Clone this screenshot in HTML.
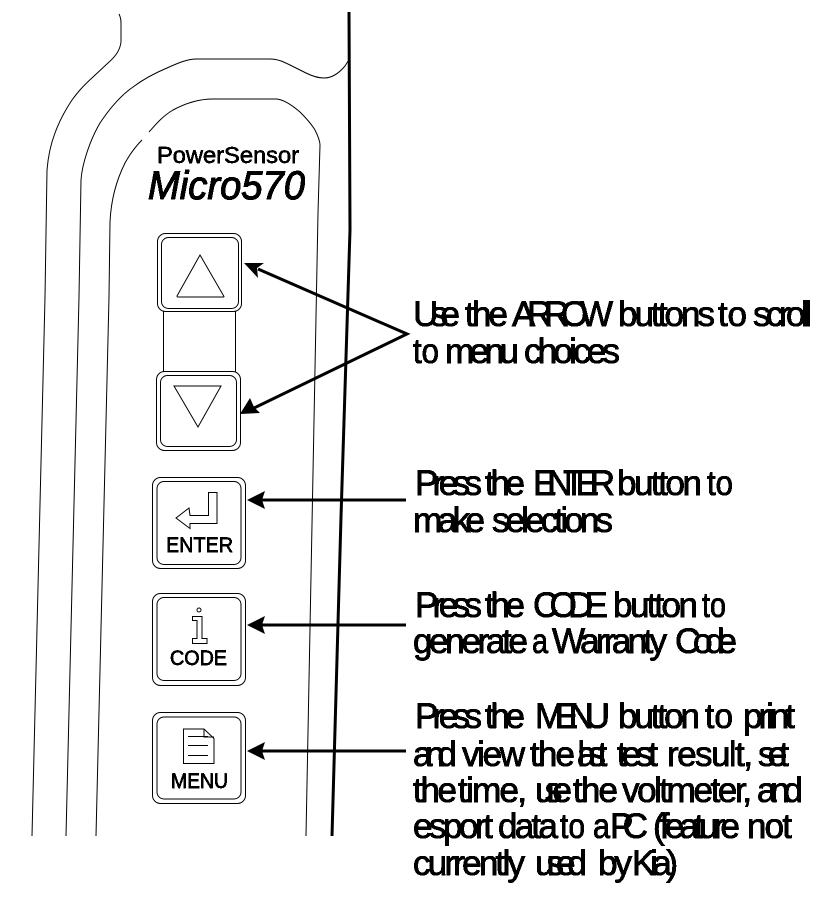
<!DOCTYPE html>
<html><head><meta charset="utf-8">
<style>
html,body{margin:0;padding:0;background:#fff;width:832px;height:904px;overflow:hidden}
svg{display:block}
text{font-family:"Liberation Sans",sans-serif;fill:#000}
.c text{font-size:35px;stroke:#000;stroke-width:.7px}
.l{font-size:21px;stroke:#000;stroke-width:.6px}
</style></head><body>
<svg width="832" height="904" viewBox="0 0 832 904" xmlns="http://www.w3.org/2000/svg">
<defs><filter id="t" x="0" y="0" width="100%" height="100%" color-interpolation-filters="sRGB"><feComponentTransfer><feFuncA type="discrete" tableValues="0 1 1"/></feComponentTransfer></filter></defs>
<g fill="none" stroke="#000" stroke-width="1">
<path d="M119 14C121 18 121 21 121 25L121 42C120 50 116 56 108 63L93 77C82 87 78 92 72 100C64 112 59 122 55 133C50 146 48 158 47 170L45 297L32 836"/>
<path d="M66 836L79 297L81 180C82 164 90 140 100 123C110 108 120 96 133 87C145 78 155 73 167 68C178 63 187 59 197 59L270 59C278 59 284 62 290 65L306 73C312 76 318 78 324 78C333 78 340 72 345 66L350 58"/>
<path d="M96 836L109 297L110 222C111 200 116 181 125 163C130 154 135 147 142 140M149 132C157 123 163 116 173 110C186 103 200 99 213 99L277 99C285 100 293 106 300 112C307 119 312 125 315 130C318 136 320 141 320 145L318 213L306 836"/>
<rect x="157.5" y="233.5" width="84" height="78" rx="8"/>
<rect x="161.5" y="237.5" width="77" height="71" rx="7"/>
<path d="M163.500 311V372M235.500 311V372"/>
<rect x="156.500" y="371.500" width="84" height="79" rx="8" fill="#fff"/>
<rect x="160.500" y="375.500" width="76" height="71" rx="7"/>
<path d="M200 255L224 296.500Q224 297 223 297L178 297Q177 297 177 296Z"/>
<path d="M174 386H221L198 427Z"/>
<rect x="152.500" y="477.500" width="93" height="91" rx="8"/>
<rect x="157" y="481.500" width="84" height="83" rx="7"/>
<path d="M208.500 492.500H217V523.500H190V528.500L176 518L189 508L190 515.500H208.500Z"/>
<rect x="152.500" y="593.500" width="93" height="92" rx="8"/>
<rect x="157" y="597.500" width="84" height="83" rx="7"/>
<circle cx="199" cy="610" r="2"/>
<path d="M192.500 616.500H202V638.500H207V643.500H192.500V638.500H197V620.500H192.500Z"/>
<rect x="152.500" y="712.500" width="93" height="91" rx="8"/>
<rect x="157" y="717" width="84" height="82" rx="7"/>
<path d="M183.500 729H204L214 738.500V763.500H183.500ZM204 729V737H214M188 736.500H208M188 745.500H208M188 755.500H208"/>
</g>
<path d="M349 12L350 230L341 517L332 836" fill="none" stroke="#000" stroke-width="3"/>
<g fill="none" stroke="#000" stroke-width="3">
<path d="M258 269L407 334L254 408"/>
<path d="M262 500H406M262 625H406M262 751H406"/>
</g>
<g fill="#000">
<path d="M244 263L264 263L257 268L258 278Z"/>
<path d="M240 414L250 398L254 407L260 413Z"/>
<path d="M247 500L265 491L262 500L265 509Z"/>
<path d="M247 625L265 616L262 625L265 634Z"/>
<path d="M247 751L265 742L262 751L265 760Z"/>
</g>
<g filter="url(#t)">
<text x="157" y="163" font-size="23" stroke="#000" stroke-width=".5" textLength="142" lengthAdjust="spacingAndGlyphs">PowerSensor</text>
<text x="148" y="199" font-size="40" font-style="italic" stroke="#000" stroke-width="1" textLength="157" lengthAdjust="spacingAndGlyphs">Micro570</text>
<text class="l" x="166" y="552" textLength="67" lengthAdjust="spacingAndGlyphs">ENTER</text>
<text class="l" x="170" y="665" textLength="57" lengthAdjust="spacingAndGlyphs">CODE</text>
<text class="l" x="171" y="788" textLength="57" lengthAdjust="spacingAndGlyphs">MENU</text>
<g class="c">
<text x="413" y="326" textLength="47">Use</text><text x="465" y="326" textLength="43">the</text><text x="512" y="326" textLength="101">ARROW</text><text x="618" y="326" textLength="97">buttons</text><text x="718" y="326" textLength="29" lengthAdjust="spacingAndGlyphs">to</text><text x="753" y="326" textLength="59">scroll</text>
<text x="413" y="363" textLength="26" lengthAdjust="spacingAndGlyphs">to</text><text x="445" y="363" textLength="74">menu</text><text x="524" y="363" textLength="96">choices</text>
<text x="415" y="495" textLength="67">Press</text><text x="485" y="495" textLength="40">the</text><text x="533" y="495" textLength="82">ENTER</text><text x="617" y="495" textLength="85">button</text><text x="707" y="495" textLength="26" lengthAdjust="spacingAndGlyphs">to</text>
<text x="413" y="532" textLength="72">make</text><text x="492" y="532" textLength="121">selections</text>
<text x="415" y="617" textLength="67">Press</text><text x="485" y="617" textLength="40">the</text><text x="533" y="617" textLength="75">CODE</text><text x="613" y="617" textLength="85">button</text><text x="702" y="617" textLength="24" lengthAdjust="spacingAndGlyphs">to</text>
<text x="413" y="653" textLength="115">generate</text><text x="532" y="653" textLength="16" lengthAdjust="spacingAndGlyphs">a</text><text x="552" y="653" textLength="115">Warranty</text><text x="675" y="653" textLength="62">Code</text>
<text x="415" y="728" textLength="67">Press</text><text x="485" y="728" textLength="40">the</text><text x="535" y="728" textLength="75">MENU</text><text x="618" y="728" textLength="82">button</text><text x="705" y="728" textLength="28" lengthAdjust="spacingAndGlyphs">to</text><text x="743" y="728" textLength="52">print</text>
<text x="413" y="766" textLength="44">and</text><text x="462" y="766" textLength="63">view</text><text x="530" y="766" textLength="45">the</text><text x="577" y="766" textLength="30">last</text><text x="617" y="766" textLength="41">test</text><text x="667" y="766" textLength="86">result,</text><text x="758" y="766" textLength="31">set</text>
<text x="413" y="802" textLength="44">the</text><text x="458" y="802" textLength="69">time,</text><text x="535" y="802" textLength="37">use</text><text x="573" y="802" textLength="45">the</text><text x="622" y="802" textLength="130">voltmeter,</text><text x="757" y="802" textLength="46">and</text>
<text x="413" y="838" textLength="80">esport</text><text x="498" y="838" textLength="60">data</text><text x="560" y="838" textLength="25" lengthAdjust="spacingAndGlyphs">to</text><text x="593" y="838" textLength="17" lengthAdjust="spacingAndGlyphs">a</text><text x="610" y="838" textLength="38">PC</text><text x="653" y="838" textLength="87">(feature</text><text x="747" y="838" textLength="45">not</text>
<text x="413" y="875" textLength="112">currently</text><text x="535" y="875" textLength="52">used</text><text x="598" y="875" textLength="34">by</text><text x="632" y="875" textLength="46">Kia)</text>
</g>
</g>
</svg>
</body></html>
